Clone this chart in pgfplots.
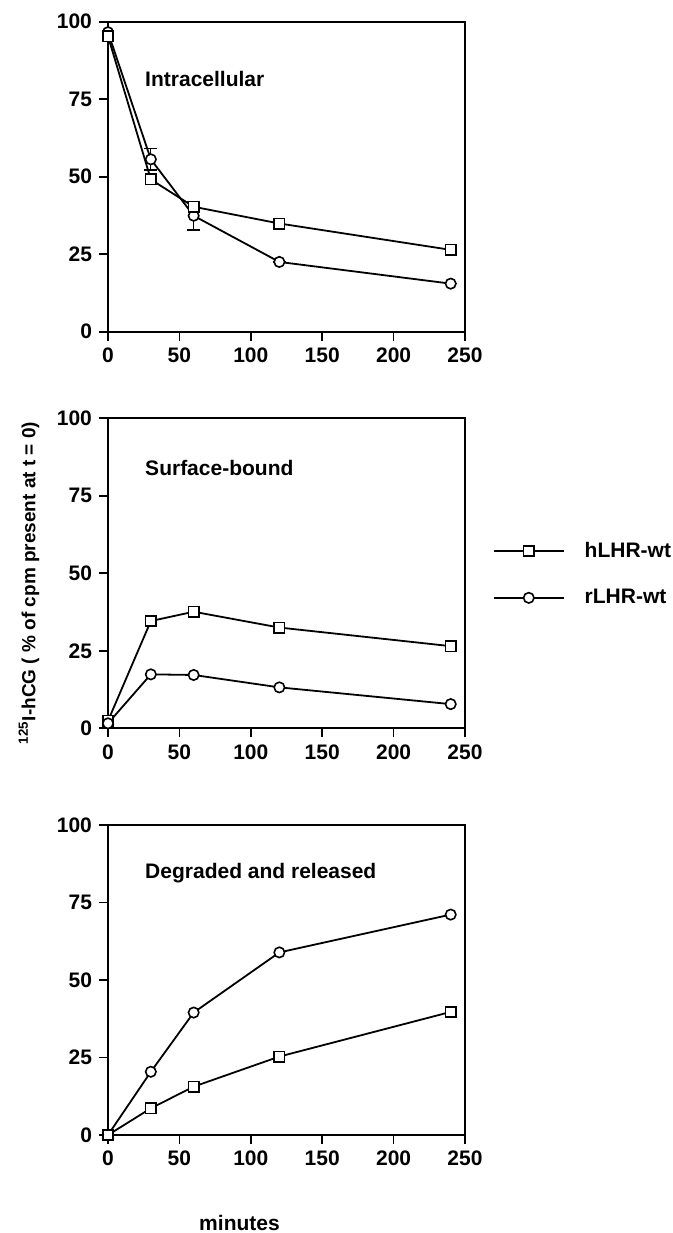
\documentclass[border=0pt]{standalone}
\usepackage{fontspec}
\setmainfont{Liberation Sans}
\usepackage{pgfplots}
\pgfplotsset{compat=1.18}

\pgfplotsset{
  panel/.style={
    scale only axis, width=178.5pt, height=155pt,
    xmin=0, xmax=250, ymin=0, ymax=100,
    xtick={0,50,...,250}, ytick={0,25,...,100},
    tick align=outside, xtick pos=bottom, ytick pos=left,
    major tick length=4.5pt,
    axis line style={line width=1pt},
    every tick/.style={black, line width=0.9pt},
    tick label style={font=\bfseries\fontsize{10.5}{11}\selectfont},
    /pgf/number format/assume math mode=true,
    clip=false,
  },
  hsq/.style={black, line width=0.9pt, mark=square*, mark size=2.6pt,
    mark options={fill=white, solid, line width=0.8pt}},
  rci/.style={black, line width=0.9pt, mark=*, mark size=2.6pt,
    mark options={fill=white, solid, line width=0.8pt}},
}
\tikzset{lbl/.style={anchor=base west, inner sep=0pt,
  font=\bfseries\fontsize{10.5}{11}\selectfont}}

\begin{document}
\begin{tikzpicture}
\useasboundingbox (0,0) rectangle (336.5pt,616.5pt);

% intracellular
\begin{axis}[panel, at={(54pt,450.65pt)}, anchor=south west]
\addplot[rci, error bars/.cd, y dir=both, y explicit,
  error mark options={rotate=90, mark size=3.2pt, line width=0.8pt}]
  coordinates {(0,96.6) +- (0,0) (30,55.6) +- (0,3.5) (60,37.4) +- (0,4.5)
               (120,22.5) +- (0,0) (240,15.5) +- (0,0)};
\addplot[hsq] coordinates {(0,95.3) (30,49.1) (60,40.3) (120,34.9) (240,26.4)};
\node[lbl] at (axis cs:25.8,79.1) {Intracellular};
\end{axis}

% surface-bound
\begin{axis}[panel, at={(54pt,252.35pt)}, anchor=south west,
  legend style={at={(1.077,0.497)}, anchor=west, draw=none, fill=none,
    inner sep=0pt, row sep=10.5pt,
    font=\bfseries\fontsize{10.5}{11}\selectfont},
  legend cell align=left,
  legend image code/.code={\draw[mark repeat=2,mark phase=2,#1]
    plot coordinates {(0pt,0pt) (17.5pt,0pt) (35pt,0pt)};
    \path (43pt,0pt);}]
\addplot[hsq] coordinates {(0,2.4) (30,34.6) (60,37.6) (120,32.5) (240,26.5)};
\addlegendentry{hLHR-wt}
\addplot[rci] coordinates {(0,1.6) (30,17.4) (60,17.2) (120,13.2) (240,7.8)};
\addlegendentry{rLHR-wt}
\node[lbl] at (axis cs:25.8,81.4) {Surface-bound};
\end{axis}

% degraded and released
\begin{axis}[panel, at={(54pt,49pt)}, anchor=south west]
\addplot[rci] coordinates {(0,0) (30,20.4) (60,39.5) (120,58.9) (240,71.1)};
\addplot[hsq] coordinates {(0,0) (30,8.6) (60,15.6) (120,25.3) (240,39.7)};
\node[lbl] at (axis cs:25.8,82.8) {Degraded and released};
\end{axis}

\node[rotate=90, font=\bfseries\fontsize{9.5}{10}\selectfont]
  at (14.5pt,325pt) {\textsuperscript{125}I-hCG ( \% of cpm present at t = 0)};
\node[anchor=base, font=\bfseries\fontsize{10.5}{11}\selectfont]
  at (119.75pt,1.5pt) {minutes};
\end{tikzpicture}
\end{document}
